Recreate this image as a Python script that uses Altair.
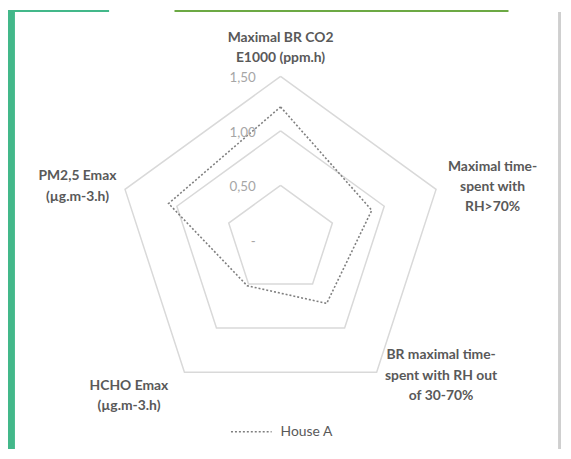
import altair as alt
import pandas as pd
import numpy as np

# ---- data ----
categories = [
    "Maximal BR CO2\nE1000 (ppm.h)",
    "Maximal time-\nspent with\nRH>70%",
    "BR maximal time-\nspent with RH out\nof 30-70%",
    "HCHO Emax\n(µg.m-3.h)",
    "PM2,5 Emax\n(µg.m-3.h)",
]
house_a = [1.22, 0.88, 0.72, 0.52, 1.08]
series_name = "House A"
grid_levels = [0.5, 1.0, 1.5]
tick_values = [0.0, 0.5, 1.0, 1.5]
tick_labels = ["-", "0,50", "1,00", "1,50"]

# ---- layout / style ----
W, H = 560, 443
CX, CY = 275, 232          # centre of radar in svg px
PPU = 110                  # px per unit
xdom = [-CX / PPU, (W - CX) / PPU]
ydom = [-(H - CY) / PPU, CY / PPU]
xs = alt.Scale(domain=xdom, range=[0, W], nice=False, zero=False)
ys = alt.Scale(domain=ydom, range=[H, 0], nice=False, zero=False)
GRID = "#d9d9d9"
TXT = "#595959"
TICK = "#a6a6a6"
FONT = "Lato"

n = len(categories)
ang = np.deg2rad(90 - 72 * np.arange(n))

# series polygon
rows = []
for k in range(n + 1):
    i = k % n
    rows.append({"series": series_name, "ord": k,
                 "x": house_a[i] * np.cos(ang[i]), "y": house_a[i] * np.sin(ang[i])})
sdf = pd.DataFrame(rows)

# grid pentagons
grows = []
for lv in grid_levels:
    for k in range(n + 1):
        i = k % n
        grows.append({"level": lv, "ord": k,
                      "x": lv * np.cos(ang[i]), "y": lv * np.sin(ang[i])})
gdf = pd.DataFrame(grows)

X = alt.X("x:Q", scale=xs, axis=None)
Y = alt.Y("y:Q", scale=ys, axis=None)

# decorative frame
deco = pd.DataFrame({"k": [0]})
frame = [
    alt.Chart(deco).mark_rect(color="#43b88a").encode(
        x=alt.value(0), x2=alt.value(7), y=alt.value(0), y2=alt.value(H)),
    alt.Chart(deco).mark_rect(color="#43b88a").encode(
        x=alt.value(0), x2=alt.value(102), y=alt.value(0), y2=alt.value(2)),
    alt.Chart(deco).mark_rect(color="#6ca944").encode(
        x=alt.value(168), x2=alt.value(505), y=alt.value(0), y2=alt.value(2)),
    alt.Chart(deco).mark_rect(color="#cfcfcf").encode(
        x=alt.value(555), x2=alt.value(558), y=alt.value(2), y2=alt.value(H)),
]

grid = alt.Chart(gdf).mark_line(color=GRID, strokeWidth=1.5).encode(
    x=X, y=Y, detail="level:N", order="ord:Q")

series = alt.Chart(sdf).mark_line(strokeWidth=1.6, strokeDash=[2, 2]).encode(
    x=X, y=Y, order="ord:Q",
    color=alt.Color("series:N", scale=alt.Scale(range=["#7f7f7f"]),
                    legend=alt.Legend(title=None, orient="none", legendX=224, legendY=404,
                                      symbolType="stroke", symbolDash=[2, 2],
                                      symbolStrokeWidth=1.6, symbolSize=1681,
                                      labelFont=FONT, labelFontSize=14,
                                      labelColor=TXT, labelOffset=8)))

tdf = pd.DataFrame({"x": [0.0] * len(tick_values), "y": tick_values, "t": tick_labels})
ticks = alt.Chart(tdf).mark_text(align="right", baseline="middle", dx=-25, dy=2,
                                 font=FONT, fontSize=13.5, color=TICK).encode(
    x=X, y=Y, text="t:N")

offsets = [(0, -39), (57, -23), (65, -17), (-56, 14), (-48, -13)]
labels = []
for i, (dx, dy) in enumerate(offsets):
    ldf = pd.DataFrame({"x": [1.5 * np.cos(ang[i])], "y": [1.5 * np.sin(ang[i])],
                        "t": [categories[i]]})
    labels.append(alt.Chart(ldf).mark_text(
        align="center", baseline="middle", dx=dx, dy=dy, lineBreak="\n", lineHeight=20.5,
        font=FONT, fontSize=14, fontWeight="bold", color=TXT).encode(x=X, y=Y, text="t:N"))

chart = alt.layer(*frame, grid, series, ticks, *labels).properties(
    width=W, height=H, autosize=alt.AutoSizeParams(type="none"), padding=0,
    background="white",
).configure_view(stroke=None)

chart.save("out.html", embed_options={"renderer": "svg", "actions": False})
